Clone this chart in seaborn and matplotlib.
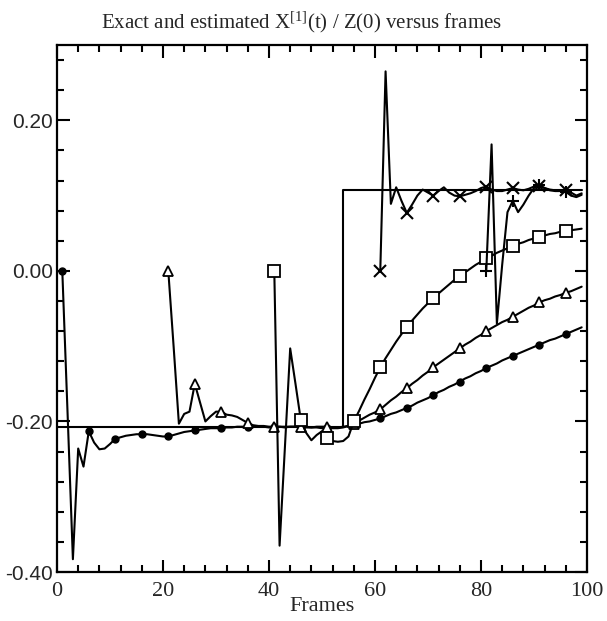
import matplotlib
matplotlib.use("Agg")
import matplotlib.pyplot as plt
from matplotlib.ticker import MultipleLocator
import pandas as pd
import seaborn as sns

# ---------------- data ----------------
exact_frames = [0, 54, 99]
exact_values = [-0.207, 0.107, 0.107]

circle_frames = list(range(1, 100))
circle_values = [
    0.000, -0.190, -0.383, -0.236, -0.260, -0.213, -0.228, -0.237, -0.236, -0.230,
    -0.223, -0.221, -0.219, -0.218, -0.217, -0.217, -0.217, -0.218, -0.219, -0.220,
    -0.220, -0.218, -0.216, -0.214, -0.213, -0.212, -0.211, -0.210, -0.209, -0.209,
    -0.209, -0.208, -0.208, -0.207, -0.207, -0.208, -0.207, -0.207, -0.207, -0.208,
    -0.208, -0.207, -0.207, -0.207, -0.207, -0.208, -0.208, -0.208, -0.208, -0.209,
    -0.209, -0.209, -0.209, -0.208, -0.206, -0.204, -0.203, -0.201, -0.200, -0.198,
    -0.196, -0.193, -0.190, -0.188, -0.185, -0.182, -0.179, -0.175, -0.172, -0.169,
    -0.165, -0.161, -0.158, -0.154, -0.151, -0.147, -0.143, -0.140, -0.136, -0.133,
    -0.129, -0.126, -0.123, -0.119, -0.116, -0.113, -0.110, -0.107, -0.104, -0.101,
    -0.098, -0.095, -0.092, -0.090, -0.087, -0.084, -0.081, -0.078, -0.075,
]

triangle_frames = list(range(21, 100))
triangle_values = [
    0.000, -0.100, -0.203, -0.190, -0.187, -0.150, -0.175, -0.200, -0.193, -0.187,
    -0.187, -0.191, -0.192, -0.194, -0.198, -0.202, -0.205, -0.206, -0.206, -0.207,
    -0.207, -0.207, -0.208, -0.207, -0.207, -0.207, -0.207, -0.208, -0.207, -0.207,
    -0.207, -0.208, -0.208, -0.207, -0.206, -0.203, -0.199, -0.195, -0.191, -0.188,
    -0.184, -0.178, -0.172, -0.167, -0.161, -0.156, -0.150, -0.145, -0.139, -0.134,
    -0.128, -0.123, -0.118, -0.113, -0.108, -0.103, -0.098, -0.094, -0.089, -0.085,
    -0.080, -0.076, -0.072, -0.068, -0.065, -0.061, -0.057, -0.053, -0.049, -0.046,
    -0.042, -0.039, -0.037, -0.034, -0.032, -0.029, -0.027, -0.024, -0.021,
]

square_frames = list(range(41, 100))
square_values = [
    0.000, -0.365, -0.235, -0.103, -0.150, -0.198, -0.215, -0.225, -0.218, -0.213,
    -0.222, -0.226, -0.227, -0.226, -0.220, -0.200, -0.186, -0.171, -0.157, -0.142,
    -0.128, -0.116, -0.105, -0.094, -0.084, -0.075, -0.066, -0.058, -0.050, -0.043,
    -0.036, -0.030, -0.024, -0.018, -0.012, -0.007, -0.002, 0.003, 0.008, 0.012,
    0.017, 0.020, 0.024, 0.027, 0.030, 0.033, 0.036, 0.038, 0.041, 0.043,
    0.045, 0.047, 0.049, 0.050, 0.052, 0.053, 0.054, 0.055, 0.056,
]

cross_frames = list(range(61, 100))
cross_values = [
    0.000, 0.265, 0.089, 0.111, 0.093, 0.077, 0.088, 0.100, 0.108, 0.104,
    0.100, 0.106, 0.111, 0.104, 0.100, 0.099, 0.101, 0.103, 0.106, 0.110,
    0.112, 0.108, 0.106, 0.106, 0.108, 0.110, 0.108, 0.107, 0.109, 0.112,
    0.113, 0.110, 0.108, 0.107, 0.107, 0.107, 0.104, 0.100, 0.103,
]

plus_frames = list(range(81, 100))
plus_values = [
    0.000, 0.168, -0.070, 0.008, 0.078, 0.093, 0.078, 0.088, 0.100, 0.110,
    0.114, 0.110, 0.107, 0.106, 0.106, 0.105, 0.100, 0.098, 0.101,
]

x_ticks = [0, 20, 40, 60, 80, 100]
x_tick_labels = ["0", "20", "40", "60", "80", "100"]
y_ticks = [-0.40, -0.20, 0.00, 0.20]
y_tick_labels = ["-0.40", "-0.20", "0.00", "0.20"]

title = r"Exact and estimated X$^{[1]}$(t) / Z(0) versus frames"
x_label = "Frames"

# ---------------- style ----------------
sns.set_style("ticks")
plt.rcParams.update({
    "font.family": ["Liberation Serif", "DejaVu Serif"],
    "mathtext.fontset": "custom",
    "mathtext.rm": "Liberation Serif",
    "mathtext.it": "Liberation Serif:italic",
    "mathtext.bf": "Liberation Serif:bold",
    "axes.edgecolor": "black",
    "axes.linewidth": 1.6,
})

fig = plt.figure(figsize=(6.07, 6.21), dpi=100)
ax = fig.add_axes([0.0939, 0.0789, 0.8731, 0.8486])

line_kw = dict(color="black", lw=1.5, ax=ax, estimator=None)

sns.lineplot(x=exact_frames, y=exact_values, drawstyle="steps-post", **line_kw)

series = [
    (circle_frames, circle_values, dict(marker="o", ms=5, mfc="black", mec="black", mew=1.0)),
    (triangle_frames, triangle_values, dict(marker="^", ms=7.5, mfc="white", mec="black", mew=1.3)),
    (square_frames, square_values, dict(marker="s", ms=8, mfc="white", mec="black", mew=1.3)),
    (cross_frames, cross_values, dict(marker="x", ms=9, mec="black", mew=1.5)),
    (plus_frames, plus_values, dict(marker="+", ms=9, mec="black", mew=1.5)),
]
for frames, values, style in series:
    df = pd.DataFrame({"frame": frames, "value": values})
    sns.lineplot(data=df, x="frame", y="value", markevery=5, **style, **line_kw)

ax.set_xlim(0, 100)
ax.set_ylim(-0.40, 0.30)
ax.set_xticks(x_ticks)
ax.set_xticklabels(x_tick_labels, fontsize=16, family="Liberation Serif")
ax.set_yticks(y_ticks)
ax.set_yticklabels(y_tick_labels, fontsize=15, family="Liberation Sans")
ax.xaxis.set_minor_locator(MultipleLocator(4))
ax.yaxis.set_minor_locator(MultipleLocator(0.04))
ax.tick_params(which="both", direction="in", top=True, right=True, color="black", width=1.5)
ax.tick_params(which="major", length=9)
ax.tick_params(which="minor", length=5)
ax.tick_params(axis="x", which="major", pad=7)
ax.tick_params(axis="y", which="major", pad=3)

ax.set_xlabel(x_label, fontsize=16, family="Liberation Serif", labelpad=-3)
ax.set_ylabel("")
ax.set_title(title, fontsize=15, family="Liberation Serif", pad=12, x=0.462)

for s in ax.spines.values():
    s.set_visible(True)
    s.set_linewidth(1.6)

fig.savefig("out.png", dpi=100)
